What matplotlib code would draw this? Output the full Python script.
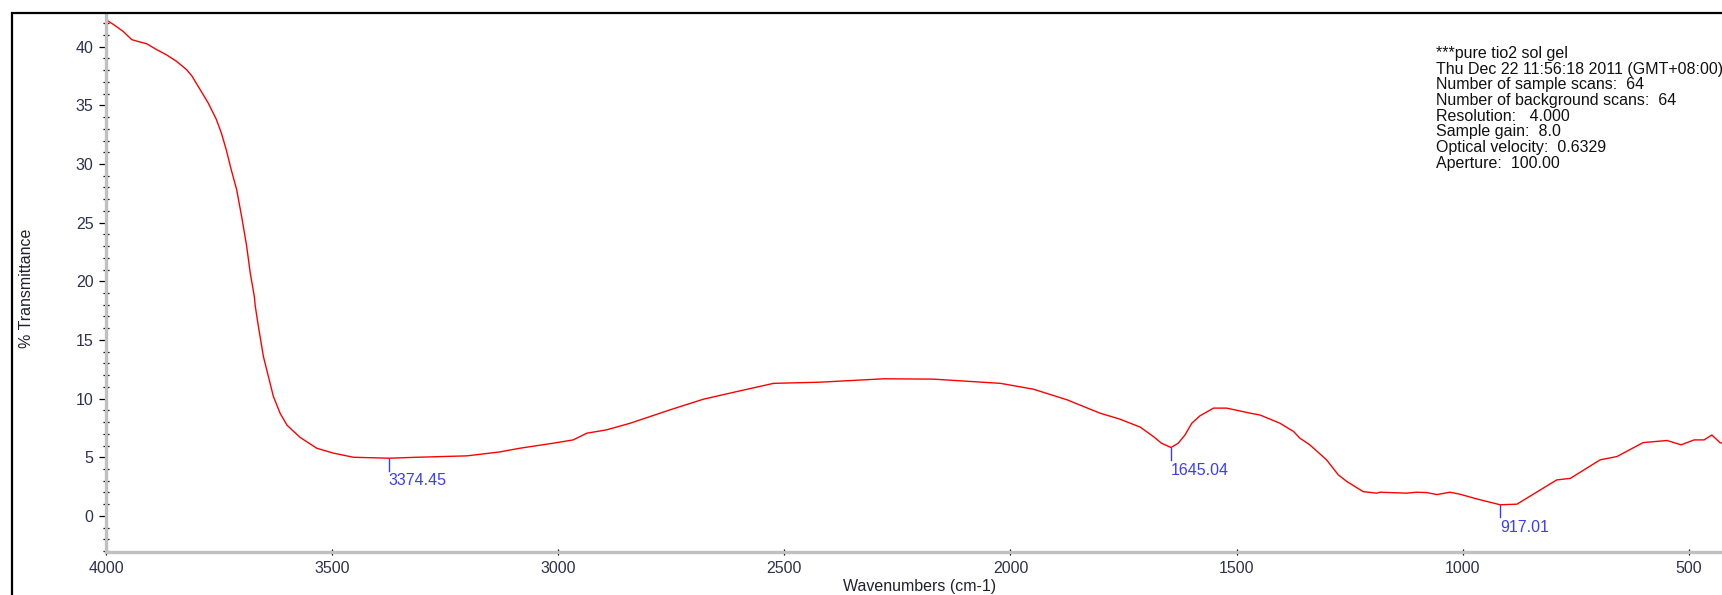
import matplotlib
matplotlib.use("Agg")
import matplotlib.pyplot as plt
from matplotlib.patches import Rectangle
from matplotlib.ticker import MultipleLocator

# FTIR spectrum of sol-gel TiO2
wavenumber = [3998, 3980, 3962, 3943, 3925, 3910, 3888, 3866, 3844, 3822, 3810,
              3792, 3774, 3756, 3745, 3734, 3723, 3711, 3700, 3689, 3681, 3672,
              3670, 3663, 3652, 3641, 3630, 3615, 3600, 3585, 3571, 3534, 3497,
              3453, 3374, 3313, 3202, 3130, 3085, 3011, 2967, 2950, 2937, 2893,
              2841, 2753, 2679, 2605, 2524, 2421, 2280, 2170, 2022, 1949, 1875,
              1802, 1758, 1713, 1684, 1666, 1645, 1629, 1614, 1599, 1581, 1551,
              1522, 1470, 1448, 1404, 1374, 1360, 1338, 1301, 1275, 1256, 1220,
              1190, 1183, 1124, 1102, 1079, 1057, 1028, 1006, 969, 917, 880,
              829, 792, 762, 696, 659, 601, 548, 517, 488, 466, 449, 431, 410]
transmittance = [42.25, 41.8, 41.3, 40.6, 40.4, 40.25, 39.75, 39.3, 38.75, 38.05, 37.5,
                 36.35, 35.2, 33.8, 32.65, 31.2, 29.5, 27.8, 25.5, 23.0, 20.7, 18.7,
                 17.9, 16.15, 13.6, 11.9, 10.2, 8.75, 7.75, 7.2, 6.7, 5.77, 5.35,
                 5.0, 4.92, 5.0, 5.12, 5.45, 5.77, 6.2, 6.48, 6.8, 7.05, 7.34,
                 7.9, 9.04, 9.95, 10.6, 11.3, 11.4, 11.69, 11.66, 11.3, 10.8, 9.9,
                 8.76, 8.25, 7.57, 6.77, 6.2, 5.83, 6.2, 6.9, 7.9, 8.53, 9.19,
                 9.19, 8.76, 8.6, 7.9, 7.2, 6.63, 6.06, 4.78, 3.5, 2.93, 2.07,
                 1.94, 2.02, 1.94, 2.02, 1.99, 1.82, 2.02, 1.85, 1.45, 0.95, 1.0,
                 2.2, 3.07, 3.2, 4.78, 5.06, 6.25, 6.43, 6.06, 6.48, 6.48, 6.9, 6.25, 6.0]

peak_positions = [3374.45, 1645.04, 917.01]
peak_values = [4.92, 5.83, 0.95]

info_lines = ["***pure tio2 sol gel",
              "Thu Dec 22 11:56:18 2011 (GMT+08:00)",
              "Number of sample scans:  64",
              "Number of background scans:  64",
              "Resolution:   4.000",
              "Sample gain:  8.0",
              "Optical velocity:  0.6329",
              "Aperture:  100.00"]

plt.rcParams['font.family'] = ['Liberation Sans', 'DejaVu Sans']
FS = 11.5
TICK_COLOR = '#303050'
PEAK_COLOR = '#3c3cff'

W, H = 1722, 595
fig = plt.figure(figsize=(W / 100, H / 100), dpi=100)

# plotting area (extends slightly past the right edge of the figure)
left, right, top, bottom = 106, 1734, 15, 551.7
ax = fig.add_axes([left / W, 1 - bottom / H, (right - left) / W, (bottom - top) / H])

ax.plot(wavenumber, transmittance, color='#ff0000', lw=1.0)
ax.set_xlim(4000, 400)
ax.set_ylim(-3.05, 42.7)

# peak markers
for pos, val in zip(peak_positions, peak_values):
    ax.plot([pos, pos], [val - 0.05, val - 1.05], color=PEAK_COLOR, lw=1.0)
    ax.text(pos, val - 1.3, f"{pos:.2f}", color=PEAK_COLOR, fontsize=FS,
            ha='left', va='top')

for side in ('top', 'right'):
    ax.spines[side].set_visible(False)
for side in ('left', 'bottom'):
    ax.spines[side].set_color('#c0c0c0')
    ax.spines[side].set_linewidth(2.4)

ax.xaxis.set_major_locator(MultipleLocator(500))
ax.xaxis.set_minor_locator(MultipleLocator(100))
ax.yaxis.set_major_locator(MultipleLocator(5))
ax.yaxis.set_minor_locator(MultipleLocator(1))

ax.tick_params(axis='y', which='major', direction='out', length=5, width=0.9,
               color='black', labelsize=FS, labelcolor=TICK_COLOR, pad=4)
ax.tick_params(axis='y', which='minor', direction='inout', length=4, width=0.9,
               color='black')
ax.tick_params(axis='x', which='major', direction='inout', length=4, width=0.9,
               color='black', labelsize=FS, labelcolor=TICK_COLOR, pad=5)
ax.tick_params(axis='x', which='minor', direction='inout', length=1.5, width=0.9,
               color='black')

ax.set_xlabel("Wavenumbers (cm-1)", fontsize=FS, color='#202030', va='center')
ax.xaxis.set_label_coords(0.5, -(586.7 - bottom) / (bottom - top))
ax.set_ylabel("% Transmittance", fontsize=FS, color='#202030', va='center')
ax.yaxis.set_label_coords((27 - left) / (right - left), 0.49)

# acquisition parameters
y0, dy = 53.3, 15.71
for i, line in enumerate(info_lines):
    fig.text(1436 / W, 1 - (y0 + i * dy) / H, line, fontsize=FS, color='#111111',
             ha='left', va='center')

# outer frame
fig.patches.append(Rectangle((12 / W, -0.1), 1.2, 1 - 13 / H + 0.1,
                             transform=fig.transFigure, fill=False,
                             edgecolor='black', lw=1.6))

fig.savefig("out.png", dpi=100)
